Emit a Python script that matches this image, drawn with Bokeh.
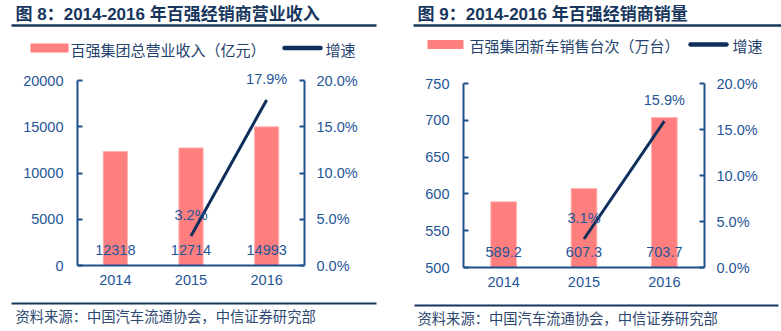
from bokeh.plotting import figure
from bokeh.models import (Range1d, LinearAxis, FixedTicker, NumeralTickFormatter,
                          Label, ColumnDataSource)
from bokeh.layouts import row, column
from bokeh.embed import file_html
from bokeh.resources import INLINE
from bokeh.core.properties import value

# ---------------- data ----------------
years = ["2014", "2015", "2016"]
revenue = [12318, 12714, 14993]          # 亿元
revenue_labels = ["12318", "12714", "14993"]
revenue_growth_years = ["2015", "2016"]
revenue_growth = [0.032, 0.179]
revenue_growth_labels = ["3.2%", "17.9%"]
revenue_ticks = [0, 5000, 10000, 15000, 20000]

sales = [589.2, 607.3, 703.7]            # 万台
sales_labels = ["589.2", "607.3", "703.7"]
sales_growth_years = ["2015", "2016"]
sales_growth = [0.031, 0.159]
sales_growth_labels = ["3.1%", "15.9%"]
sales_ticks = [500, 550, 600, 650, 700, 750]
pct_ticks = [0.0, 0.05, 0.10, 0.15, 0.20]

title1 = "图 8：2014-2016 年百强经销商营业收入"
title2 = "图 9：2014-2016 年百强经销商销量"
legend_bar1 = "百强集团总营业收入（亿元）"
legend_bar2 = "百强集团新车销售台次（万台）"
legend_line = "增速"
source_text = "资料来源：中国汽车流通协会，中信证券研究部"

# ---------------- styles ----------------
FONT = "'Liberation Sans', 'Noto Sans CJK SC'"
CJK = "'Noto Sans CJK SC'"
BAR = "#FF7F7F"
BAR_EDGE = "#FFB3B3"
LINE = "#0E2F5C"
AXIS = "#1F4E8C"
TICK_TXT = "#1F5597"
TITLE_C = "#17365D"
LEG_C = "#24426E"
SRC_C = "#2C4770"

H_HEAD = 62      # header strip height
H_FOOT = 36      # footer strip height
H_TOTAL = 331


def blank(width, height):
    p = figure(width=width, height=height, x_range=Range1d(0, width),
               y_range=Range1d(height, 0), output_backend="svg",
               toolbar_location=None, x_axis_type=None, y_axis_type=None,
               min_border=0, frame_align=False)
    p.outline_line_color = None
    p.grid.visible = False
    return p


def lab(p, x, y, text, size, color, bold=False, font=FONT):
    p.add_layout(Label(x=x, y=y, text=text, text_font=font, text_font_size=f"{size}px",
                       text_color=color, text_align="left", text_baseline="middle",
                       text_font_style="bold" if bold else "normal"))


def header(width, title, leg_bar, g):
    p = blank(width, H_HEAD)
    lab(p, g["tx"], 14, title, 17, TITLE_C, bold=True)
    p.quad(left=g["ux0"], right=g["ux1"], top=23.8, bottom=26.2, fill_color=TITLE_C,
           line_color=None)
    ly = g["ly"]
    p.quad(left=g["sw0"], right=g["sw1"], top=ly - 4.5, bottom=ly + 4.5, fill_color=BAR,
           line_color=None)
    lab(p, g["lt"], ly + 1, leg_bar, 15, LEG_C, font=CJK)
    p.line(x=[g["ls0"] + 2, g["ls1"] - 2], y=[ly, ly], line_color=LINE, line_width=4.5,
           line_cap="round")
    lab(p, g["lg"], ly + 1, legend_line, 15, LEG_C, font=CJK)
    return p


def footer(width, g):
    p = blank(width, H_FOOT)
    fy = g["fy"] - (H_TOTAL - H_FOOT)
    p.quad(left=g["fx0"], right=g["fx1"], top=fy - 1.1, bottom=fy + 1.1, fill_color=TITLE_C,
           line_color=None)
    lab(p, g["st"], fy + 11.5, source_text, 14.3, SRC_C, font=CJK)
    return p


def chart(width, fl, fr, ft, fb, ylo, yhi, yticks, vals, vlabels, gyears, gvals, glabels):
    height = H_TOTAL - H_HEAD - H_FOOT
    bottom_border = (H_TOTAL - H_FOOT) - fb
    # frame spans canvas rows H_HEAD..fb ; data range ylo..yhi spans ft..fb
    scale = (fb - H_HEAD) / (fb - ft)
    y_end = ylo + (yhi - ylo) * scale
    p = figure(width=width, height=height, x_range=years, y_range=Range1d(ylo, y_end),
               output_backend="svg", toolbar_location=None,
               min_border_left=fl, min_border_right=width - fr,
               min_border_top=0, min_border_bottom=bottom_border, frame_align=False)
    p.outline_line_color = None
    p.grid.visible = False
    p.extra_y_ranges = {"pct": Range1d(0, pct_ticks[-1] * scale)}

    src = ColumnDataSource(dict(x=years, top=vals, lab=vlabels))
    p.vbar(x="x", top="top", bottom=ylo, width=0.32, source=src,
           fill_color=BAR, line_color=BAR_EDGE, line_width=1)
    lab_y = ylo + (yhi - ylo) * 0.085
    p.text(x="x", y=lab_y, text="lab", source=src, text_align="center",
           text_baseline="middle", text_font=value(FONT), text_font_size="14.5px",
           text_color=TICK_TXT)

    gsrc = ColumnDataSource(dict(x=gyears, y=gvals, lab=glabels))
    p.line(x="x", y="y", source=gsrc, y_range_name="pct", line_color=LINE,
           line_width=3)
    p.text(x="x", y="y", text="lab", source=gsrc, y_range_name="pct",
           text_align="center", text_baseline="middle", y_offset=-21,
           text_font=value(FONT), text_font_size="14.5px", text_color=TICK_TXT)

    p.yaxis[0].ticker = FixedTicker(ticks=yticks)
    p.yaxis[0].bounds = (ylo, yhi)
    ax2 = LinearAxis(y_range_name="pct", ticker=FixedTicker(ticks=pct_ticks),
                     formatter=NumeralTickFormatter(format="0.0%"),
                     bounds=(pct_ticks[0], pct_ticks[-1]))
    p.add_layout(ax2, "right")

    for ax in p.yaxis:
        ax.axis_line_color = AXIS
        ax.axis_line_width = 2
        ax.major_tick_line_color = AXIS
        ax.major_tick_line_width = 2
        ax.major_tick_in = 5
        ax.major_tick_out = 0
        ax.minor_tick_line_color = None
        ax.major_label_text_font = FONT
        ax.major_label_text_font_size = "14.5px"
        ax.major_label_text_color = TICK_TXT
    p.yaxis[0].major_label_standoff = 14
    ax2.major_label_standoff = 12
    p.xaxis.axis_line_color = AXIS
    p.xaxis.axis_line_width = 2
    p.xaxis.major_tick_line_color = None
    p.xaxis.minor_tick_line_color = None
    p.xaxis.major_label_text_font = FONT
    p.xaxis.major_label_text_font_size = "14.5px"
    p.xaxis.major_label_text_color = TICK_TXT
    p.xaxis.major_label_standoff = 3
    return p


geo1 = dict(tx=15, ux0=11, ux1=376, sw0=30, sw1=68, lt=70, ls0=282, ls1=322, lg=325,
            ly=47.5, fx0=11, fx1=376, fy=303, st=15)
geo2 = dict(tx=27, ux0=23, ux1=391, sw0=37, sw1=73, lt=79, ls0=298, ls1=338, lg=342,
            ly=44, fx0=24, fx1=388, fy=305, st=27)

c1 = chart(390, 77, 304, 80, 265, 0, 20000, revenue_ticks, revenue, revenue_labels,
           revenue_growth_years, revenue_growth, revenue_growth_labels)
c2 = chart(391, 73, 314, 83, 267, 500, 750, sales_ticks, sales, sales_labels,
           sales_growth_years, sales_growth, sales_growth_labels)

panel1 = column(header(390, title1, legend_bar1, geo1), c1, footer(390, geo1), spacing=0)
panel2 = column(header(391, title2, legend_bar2, geo2), c2, footer(391, geo2), spacing=0)

layout = row(panel1, panel2, spacing=0)
open("out.html", "w").write(file_html(layout, INLINE))
